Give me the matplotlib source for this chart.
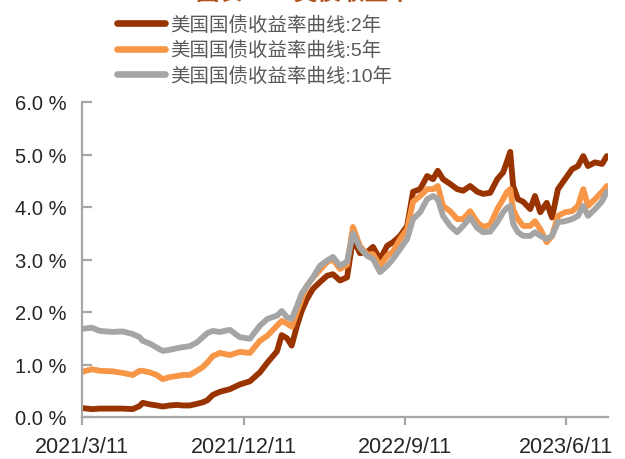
import numpy as np
import pandas as pd
import matplotlib
matplotlib.use("Agg")
import matplotlib.pyplot as plt
import matplotlib.dates as mdates

plt.rcParams['font.family'] = ['Liberation Sans', 'Noto Sans CJK SC', 'DejaVu Sans']

# sample dates (roughly every 1-2 weeks)
dates = [
    "2021-03-11", "2021-03-28", "2021-04-10", "2021-05-02", "2021-05-19",
    "2021-06-05", "2021-06-17", "2021-06-22", "2021-07-04", "2021-07-16",
    "2021-07-26", "2021-08-07", "2021-08-19", "2021-08-29", "2021-09-10",
    "2021-09-22", "2021-10-02", "2021-10-10", "2021-10-19", "2021-10-31",
    "2021-11-17", "2021-12-04", "2021-12-21", "2022-01-07", "2022-01-20",
    "2022-02-05", "2022-02-13", "2022-02-22", "2022-03-02", "2022-03-11",
    "2022-03-19", "2022-03-28", "2022-04-07", "2022-04-19", "2022-05-01",
    "2022-05-11", "2022-05-23", "2022-06-04", "2022-06-14", "2022-06-26",
    "2022-07-08", "2022-07-18", "2022-07-30", "2022-08-11", "2022-08-21",
    "2022-09-02", "2022-09-14", "2022-09-24", "2022-10-06", "2022-10-18",
    "2022-10-28", "2022-11-05", "2022-11-14", "2022-11-26", "2022-12-08",
    "2022-12-18", "2022-12-30", "2023-01-11", "2023-01-21", "2023-02-02",
    "2023-02-14", "2023-02-24", "2023-03-02", "2023-03-08", "2023-03-13",
    "2023-03-21", "2023-03-30", "2023-04-11", "2023-04-19", "2023-04-28",
    "2023-05-09", "2023-05-18", "2023-05-28", "2023-06-09", "2023-06-21",
    "2023-07-01", "2023-07-10", "2023-07-18", "2023-07-30", "2023-08-11",
    "2023-08-19",
]

y2 = [
    0.17, 0.15, 0.16, 0.16, 0.16, 0.15, 0.21, 0.27, 0.24, 0.22,
    0.20, 0.22, 0.23, 0.22, 0.22, 0.25, 0.28, 0.32, 0.42, 0.48,
    0.53, 0.62, 0.68, 0.85, 1.04, 1.25, 1.56, 1.50, 1.36, 1.74,
    2.02, 2.25, 2.44, 2.57, 2.69, 2.72, 2.60, 2.66, 3.40, 3.12,
    3.14, 3.24, 3.00, 3.26, 3.33, 3.45, 3.64, 4.29, 4.34, 4.59,
    4.53, 4.69, 4.53, 4.44, 4.34, 4.31, 4.40, 4.29, 4.25, 4.27,
    4.53, 4.66, 4.85, 5.05, 4.40, 4.15, 4.10, 3.96, 4.21, 3.90,
    4.08, 3.80, 4.34, 4.53, 4.72, 4.78, 4.97, 4.78, 4.85, 4.82,
    4.97,
]

y5 = [
    0.86, 0.91, 0.88, 0.87, 0.84, 0.80, 0.88, 0.88, 0.85, 0.80,
    0.72, 0.76, 0.78, 0.80, 0.80, 0.88, 0.95, 1.04, 1.16, 1.22,
    1.18, 1.24, 1.22, 1.45, 1.55, 1.74, 1.83, 1.78, 1.72, 2.00,
    2.25, 2.50, 2.65, 2.80, 2.95, 3.00, 2.82, 2.90, 3.62, 3.25,
    3.10, 3.10, 2.88, 3.07, 3.15, 3.39, 3.58, 4.10, 4.21, 4.34,
    4.34, 4.40, 4.02, 3.92, 3.77, 3.77, 3.92, 3.71, 3.62, 3.66,
    3.96, 4.15, 4.28, 4.34, 3.95, 3.77, 3.64, 3.64, 3.73, 3.58,
    3.33, 3.45, 3.83, 3.90, 3.92, 4.02, 4.34, 4.02, 4.15, 4.29,
    4.40,
]

y10 = [
    1.68, 1.70, 1.64, 1.62, 1.63, 1.58, 1.52, 1.45, 1.40, 1.32,
    1.26, 1.28, 1.31, 1.33, 1.35, 1.42, 1.52, 1.60, 1.64, 1.62,
    1.66, 1.52, 1.49, 1.74, 1.87, 1.93, 2.02, 1.90, 1.87, 2.11,
    2.35, 2.50, 2.66, 2.88, 2.98, 3.05, 2.88, 2.96, 3.50, 3.22,
    3.07, 3.01, 2.76, 2.88, 3.01, 3.20, 3.39, 3.77, 3.90, 4.15,
    4.21, 4.15, 3.83, 3.64, 3.52, 3.64, 3.80, 3.60, 3.52, 3.53,
    3.71, 3.90, 3.98, 4.02, 3.68, 3.52, 3.45, 3.45, 3.52, 3.45,
    3.39, 3.45, 3.71, 3.73, 3.77, 3.83, 4.02, 3.83, 3.96, 4.11,
    4.29,
]

labels = ["美国国债收益率曲线:2年", "美国国债收益率曲线:5年", "美国国债收益率曲线:10年"]
colors = ["#993300", "#F79646", "#A5A5A5"]
xtick_dates = ["2021-03-11", "2021-12-11", "2022-09-11", "2023-06-11"]
yticks = [0, 1, 2, 3, 4, 5, 6]

d = pd.to_datetime(dates)

fig = plt.figure(figsize=(6.25, 4.6), dpi=100)
ax = fig.add_axes([82 / 625, 1 - 418 / 460, (608 - 82) / 625, (418 - 103) / 460])

for ys, lab, c in zip([y2, y5, y10], labels, colors):
    ax.plot(d, ys, color=c, lw=4.2, label=lab, solid_capstyle='round',
            solid_joinstyle='round')

ax.set_xlim(pd.Timestamp("2021-03-11"), pd.Timestamp("2023-08-21"))
ax.set_ylim(0, 6)

xt = pd.to_datetime(xtick_dates)
ax.set_xticks(xt)
ax.set_xticklabels([f"{t.year}/{t.month}/{t.day}" for t in xt])
ax.set_yticks(yticks)
ax.set_yticklabels([f"{v:.1f} %" for v in yticks])

for s in ["top", "right"]:
    ax.spines[s].set_visible(False)
for s in ["left", "bottom"]:
    ax.spines[s].set_color("#A6A6A6")
    ax.spines[s].set_linewidth(1.6)

ax.tick_params(axis="y", direction="in", length=7, width=1.6, color="#A6A6A6",
               labelsize=14.5, labelcolor="#262626", pad=11)
ax.tick_params(axis="x", direction="out", length=6, width=1.6, color="#A6A6A6",
               labelsize=15.5, labelcolor="#262626", pad=8)

leg = fig.legend(loc="upper left", bbox_to_anchor=(117 / 625, 1 - 16 / 460),
                 frameon=False, fontsize=14, handlelength=2.47, handletextpad=0.26,
                 labelspacing=0.37, borderpad=0, borderaxespad=0)
for t in leg.get_texts():
    t.set_color("#595959")
for h in leg.get_lines():
    h.set_linewidth(4.8)
    h.set_solid_capstyle('round')

# chart title, cut off at the top of the picture
fig.text(195 / 625, 1.0, "图表12：美债收益率", color="#B0521E",
         fontsize=17, fontweight="bold", ha="left", va="baseline",
         family=["Noto Sans CJK SC", "DejaVu Sans"])

fig.savefig("out.png", dpi=100)
